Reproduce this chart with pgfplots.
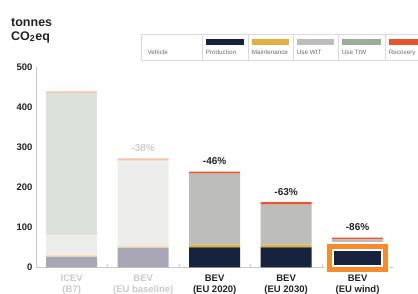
\documentclass[border=0pt]{standalone}
\usepackage{pgfplots}
\pgfplotsset{compat=1.18}
\usepackage{fontspec}
\setmainfont{Liberation Sans}
\definecolor{prod}{HTML}{16223E}
\definecolor{maint}{HTML}{E3B042}
\definecolor{wtt}{HTML}{BDBEBB}
\definecolor{ttw}{HTML}{9AAD97}
\definecolor{rec}{HTML}{E8572C}
\definecolor{boxor}{HTML}{F68B2C}
\definecolor{fprod}{HTML}{A9A6B6}
\definecolor{fmaint}{HTML}{F6E2BE}
\definecolor{fwtt}{HTML}{EDEDEC}
\definecolor{fttw}{HTML}{DDE1DC}
\definecolor{frec}{HTML}{F7C6A9}
\definecolor{axgrey}{HTML}{C8C8C8}
\definecolor{fadetxt}{HTML}{CACACA}
\definecolor{fadepct}{HTML}{D5CACC}
\definecolor{legtxt}{HTML}{6A6A6A}
\definecolor{legline}{HTML}{DADADA}
\definecolor{dark}{HTML}{222222}
\begin{document}
\begin{tikzpicture}
\path[use as bounding box] (0pt,0pt) rectangle (418pt,293pt);
% title
\node[anchor=base west, inner sep=0pt, text=dark, font=\bfseries\fontsize{12.5}{14}\selectfont] at (11pt,267pt) {tonnes};
\node[anchor=base west, inner sep=0pt, text=dark, font=\bfseries\fontsize{12.5}{14}\selectfont] at (11pt,253pt) {CO\textsubscript{2}eq};
% legend
\draw[legline, line width=0.6pt] (141.7pt,233pt) rectangle (440pt,259pt);
\foreach \xx in {202,248,293,338,385} {\draw[legline, line width=0.6pt] (\xx pt,233pt) -- (\xx pt,259pt);}
\foreach \l/\r/\c/\t in {202/248/prod/Production,248/293/maint/Maintenance,293/338/wtt/Use WtT,338/385/ttw/Use TtW,385/430/rec/Recovery} {
  \fill[\c] (\l pt+3.7pt,248pt) rectangle (\r pt-4pt,253.7pt);
  \node[anchor=base west, inner sep=0pt, text=legtxt, font=\fontsize{6.3}{7}\selectfont] at (\l pt+3.7pt,239pt) {\t};
}
\node[anchor=base west, inner sep=0pt, text=legtxt, font=\fontsize{6.3}{7}\selectfont] at (147.3pt,239pt) {Vehicle};
\begin{axis}[
  at={(36pt,25.7pt)}, anchor=south west,
  scale only axis, width=357.3pt, height=200pt,
  xmin=-0.5, xmax=4.5, ymin=0, ymax=500,
  ybar stacked, bar width=51pt,
  axis x line=bottom, axis y line=left,
  axis line style={axgrey, line width=0.6pt, -},
  xtick={0,1,2,3,4},
  xticklabels={
    {\textcolor{fadetxt}{ICEV}\\\textcolor{fadetxt}{(B7)}},
    {\textcolor{fadetxt}{BEV}\\\textcolor{fadetxt}{(EU baseline)}},
    {BEV\\(EU 2020)},
    {BEV\\(EU 2030)},
    {BEV\\(EU wind)}},
  x tick label style={align=center, font=\bfseries\fontsize{9.5}{11}\selectfont, text=dark, yshift=-4pt},
  extra x ticks={0.5,1.5,2.5,3.5},
  extra x tick labels={},
  extra x tick style={major tick length=3pt, tick align=inside, tick style={axgrey, line width=0.6pt}},
  ytick={0,100,200,300,400,500},
  y tick label style={font=\bfseries\fontsize{9.5}{11}\selectfont, text=dark},
  /pgf/number format/assume math mode=true,
  major tick length=0pt,
  ytick style={axgrey, line width=0.6pt},
  tick align=outside,
  every axis plot/.append style={draw=none},
  clip=false,
]
\addplot[fill=fprod] coordinates {(0,27) (1,49) (2,0) (3,0) (4,0)};
\addplot[fill=prod] coordinates {(0,0) (1,0) (2,50) (3,50) (4,50)};
\addplot[fill=fmaint] coordinates {(0,5) (1,6) (2,0) (3,0) (4,0)};
\addplot[fill=maint] coordinates {(0,0) (1,0) (2,7) (3,7) (4,7)};
\addplot[fill=fwtt] coordinates {(0,48) (1,212) (2,0) (3,0) (4,0)};
\addplot[fill=wtt] coordinates {(0,0) (1,0) (2,177) (3,100) (4,13)};
\addplot[fill=fttw] coordinates {(0,355) (1,0) (2,0) (3,0) (4,0)};
\addplot[fill=frec] coordinates {(0,5) (1,5.5) (2,0) (3,0) (4,0)};
\addplot[fill=rec] coordinates {(0,0) (1,0) (2,5) (3,6) (4,4)};
\coordinate (boxlo) at (axis cs:4,-5);
\coordinate (boxhi) at (axis cs:4,51.3);
% percentage labels
\node[anchor=base, inner sep=0pt, yshift=7pt, text=fadepct, font=\bfseries\fontsize{10}{11}\selectfont] at (axis cs:1,272.5) {-38\%};
\node[anchor=base, inner sep=0pt, yshift=7pt, text=dark, font=\bfseries\fontsize{10}{11}\selectfont] at (axis cs:2,239) {-46\%};
\node[anchor=base, inner sep=0pt, yshift=7pt, text=dark, font=\bfseries\fontsize{10}{11}\selectfont] at (axis cs:3,163) {-63\%};
\node[anchor=base, inner sep=0pt, yshift=7pt, text=dark, font=\bfseries\fontsize{10}{11}\selectfont] at (axis cs:4,74) {-86\%};
\end{axis}
% highlight box
\draw[white, line width=9pt] ([xshift=-28pt]boxlo) rectangle ([xshift=28pt]boxhi);
\draw[boxor, line width=5pt] ([xshift=-28pt]boxlo) rectangle ([xshift=28pt]boxhi);
\end{tikzpicture}
\end{document}
